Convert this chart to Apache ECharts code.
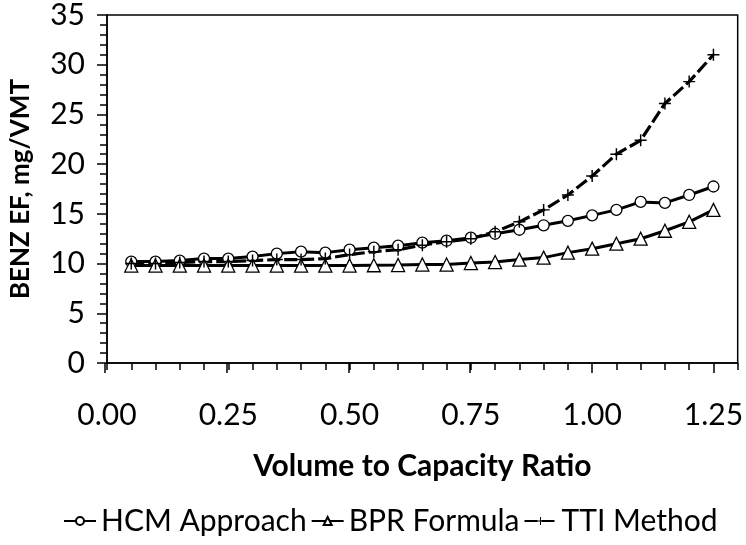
<!DOCTYPE html>
<html><head><meta charset="utf-8">
<script src="https://cdn.jsdelivr.net/npm/echarts@6/dist/echarts.min.js"></script>
<style>html,body{margin:0;padding:0;background:#fff}#c{width:746px;height:545px}</style>
</head><body><div id="c"></div>
<script>
var xValues = [0.05,0.10,0.15,0.20,0.25,0.30,0.35,0.40,0.45,0.50,0.55,0.60,0.65,0.70,0.75,0.80,0.85,0.90,0.95,1.00,1.05,1.10,1.15,1.20,1.25];
var hcm = [10.2,10.2,10.3,10.5,10.5,10.7,11.0,11.2,11.1,11.4,11.6,11.8,12.1,12.3,12.6,13.0,13.4,13.85,14.3,14.85,15.4,16.2,16.1,16.9,17.75];
var bpr = [9.8,9.8,9.8,9.8,9.8,9.8,9.8,9.8,9.8,9.8,9.83,9.85,9.9,9.9,10.05,10.15,10.4,10.6,11.1,11.5,12.0,12.5,13.3,14.2,15.4];
var tti = [10.0,10.0,10.1,10.2,10.2,10.3,10.4,10.4,10.5,10.9,11.2,11.4,11.85,12.2,12.5,13.2,14.2,15.4,16.9,18.8,21.0,22.4,26.1,28.3,31.0];
var seriesNames = ['HCM Approach','BPR Formula','TTI Method'];
var xTitle = 'Volume to Capacity Ratio';
var yTitle = 'BENZ EF, mg/VMT';

function pairs(ys){ return xValues.map(function(x,i){ return [x, ys[i]]; }); }
var FONT = 'Lato';
var plus = 'path://M4.4,0h1.2v4.4h4.4v1.2h-4.4v4.4h-1.2v-4.4h-4.4v-1.2h4.4z';

var chart = echarts.init(document.getElementById('c'));
chart.setOption({
  animation: false,
  backgroundColor: '#fff',
  textStyle: {fontFamily: FONT, color: '#000'},
  grid: [
    {left: 105, right: 8, top: 14, bottom: 182, show: true, borderColor: '#000', borderWidth: 1.5, backgroundColor: 'transparent'},
    {left: 105, right: 32.3, top: 14, bottom: 182, show: false}
  ],
  legend: {
    bottom: 4, left: 58, itemWidth: 32, itemHeight: 10, itemGap: 4,
    textStyle: {fontFamily: FONT, fontSize: 30, color: '#000'},
    data: seriesNames
  },
  xAxis: [{
    type: 'value', gridIndex: 0, min: 0, max: 1.3, interval: 0.05,
    name: xTitle, nameLocation: 'middle', nameGap: 88,
    nameTextStyle: {fontFamily: FONT, fontSize: 30, fontWeight: 'bold', color: '#000'},
    axisLine: {lineStyle: {color: '#000', width: 1.5}},
    axisTick: {show: true, length: 7, lineStyle: {color: '#000', width: 1.5}},
    splitLine: {show: false},
    axisLabel: {
      fontFamily: FONT, fontSize: 30, color: '#000', margin: 37,
      formatter: function(v){ var k = Math.round(v*100); return (k % 25 === 0 && k <= 125) ? (k/100).toFixed(2) : ''; }
    }
  },{
    type: 'value', gridIndex: 1, min: 0, max: 1.25, interval: 0.25,
    axisLine: {show: false}, axisLabel: {show: false}, splitLine: {show: false},
    axisTick: {show: true, length: 10, lineStyle: {color: '#000', width: 1.5}}
  }],
  yAxis: [{
    type: 'value', gridIndex: 0, min: 0, max: 35, interval: 5,
    name: yTitle, nameLocation: 'middle', nameGap: 73,
    nameTextStyle: {fontFamily: FONT, fontSize: 26, fontWeight: 'bold', color: '#000'},
    axisLine: {show: true, lineStyle: {color: '#000', width: 1.5}},
    axisTick: {show: true, length: 10, lineStyle: {color: '#000', width: 1.5}},
    minorTick: {show: true, splitNumber: 5, length: 7, lineStyle: {color: '#000', width: 1.5}},
    splitLine: {show: false},
    axisLabel: {fontFamily: FONT, fontSize: 30, color: '#000', margin: 22}
  },{
    type: 'value', gridIndex: 1, min: 0, max: 35, show: false
  }],
  series: [
    {name: seriesNames[0], type: 'line', data: pairs(hcm), symbol: 'circle', symbolSize: 11, showAllSymbol: true,
     lineStyle: {color: '#000', width: 3}, itemStyle: {color: '#fff', borderColor: '#000', borderWidth: 1.3}},
    {name: seriesNames[1], type: 'line', data: pairs(bpr), symbol: 'triangle', symbolSize: 13, showAllSymbol: true,
     lineStyle: {color: '#000', width: 3}, itemStyle: {color: '#fff', borderColor: '#000', borderWidth: 1.3}},
    {name: seriesNames[2], type: 'line', data: pairs(tti), symbol: plus, symbolSize: 12, showAllSymbol: true,
     lineStyle: {color: '#000', width: 3.2, type: [13, 4]}, itemStyle: {color: '#000', borderWidth: 0}}
  ]
});
</script></body></html>
